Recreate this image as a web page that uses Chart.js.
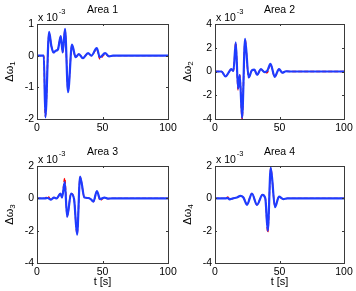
<!DOCTYPE html>
<html>
<head>
<meta charset="utf-8">
<script src="https://cdn.jsdelivr.net/npm/chart.js@4/dist/chart.umd.min.js"></script>
<style>
  html, body { margin: 0; padding: 0; background: #fff; }
  #wrap { position: relative; width: 356px; height: 291px; }
  canvas { position: absolute; left: 0; top: 0; }
</style>
</head>
<body>
<div id="wrap">
  <canvas id="area1" width="356" height="291"></canvas>
  <canvas id="area2" width="356" height="291"></canvas>
  <canvas id="area3" width="356" height="291"></canvas>
  <canvas id="area4" width="356" height="291"></canvas>
</div>
<script>
// values are in units of 1e-3
const xTicks = [0, 50, 100];

const timeArea1 = [0, 5.2, 6.4, 9.2, 11, 12.6, 14, 16, 18.1, 19.6, 21.4, 23.7, 26.7, 29.5, 32, 35, 39, 41.5, 45.6, 48, 52, 55, 58, 100];
const blueArea1 = [0, 0, -1.95, 0.75, 0.3, 0.1, 0.15, 0.2, 0.62, 0.1, 0.85, -1.15, 0.35, -0.05, 0.05, -0.08, 0.08, 0, 0.24, -0.05, 0.08, -0.02, 0, 0];
const redArea1 = [0, 0, -1.9, 0.72, 0.3, 0.1, 0.15, 0.2, 0.6, 0.1, 0.82, -1.1, 0.33, -0.05, 0.05, -0.08, 0.08, 0, 0.2, -0.1, 0.05, -0.02, 0, 0];
const yTicksArea1 = [-2, -1, 0, 1];

const timeArea2 = [0, 5, 8.2, 10.5, 12.5, 14.3, 16.1, 17.9, 19.2, 21, 23.3, 26.1, 28.6, 30.5, 32.7, 35.5, 38.4, 40.5, 43, 46.3, 49.6, 52.2, 55, 58, 100];
const blueArea2 = [0, 0, -0.42, -0.1, 0.2, 0.05, 2.45, -1.45, -0.3, -3.9, 2.75, -0.5, 0.1, 0.15, -0.28, 0.2, -0.05, 0.05, 0.65, -0.45, 0.2, -0.1, 0.02, 0, 0];
const redArea2 = [0, 0, -0.4, -0.1, 0.2, 0.05, 2.4, -1.55, -0.3, -4.0, 2.7, -0.5, 0.1, 0.15, -0.28, 0.2, -0.05, -0.1, 0.6, -0.45, 0.2, -0.1, 0.02, 0, 0];
const yTicksArea2 = [-4, -2, 0, 2, 4];

const timeArea3 = [0, 6, 8.2, 10.7, 13, 15, 17.9, 19.1, 21.2, 23, 26, 28.3, 30.6, 32.9, 36.2, 39, 41, 43.1, 45.7, 48.2, 51.5, 54, 57, 100];
const blueArea3 = [0, 0, 0.02, -0.08, 0.05, 0, 0.3, 0.05, 1.0, -1.15, 0.3, -0.05, -2.25, 1.35, 0.05, 0.02, -0.05, -0.2, 0.45, -0.05, 0.05, -0.02, 0, 0];
const redArea3 = [0, 0, 0.12, -0.08, 0.05, 0, 0.28, 0.05, 1.25, -1.1, 0.3, -0.05, -2.2, 1.3, 0.05, 0.02, -0.05, -0.2, 0.42, -0.12, 0.05, -0.02, 0, 0];
const yTicksArea3 = [-4, -2, 0, 2];

const timeArea4 = [0, 8, 10, 11.3, 14, 17, 19.7, 22, 24.8, 28.6, 32.5, 36.8, 39, 40.9, 43.2, 46.5, 49.6, 53, 56, 100];
const blueArea4 = [0, 0, 0.02, -0.06, 0, 0.05, 0.15, 0.05, -0.4, 0.3, -0.4, 0.22, 0, -2.0, 1.9, -0.55, 0.1, -0.05, 0, 0];
const redArea4 = [0, 0, 0.08, -0.06, 0, 0.05, 0.15, 0.05, -0.35, 0.3, -0.4, 0.22, 0, -2.1, 1.85, -0.5, 0.1, -0.05, 0, 0];
const yTicksArea4 = [-4, -2, 0, 2];

const fontFamily = '"Liberation Sans", Arial, Helvetica, sans-serif';
Chart.defaults.font.family = fontFamily;

const framePlugin = {
  id: "frame",
  afterDraw(chart) {
    const { ctx, chartArea: a, scales } = chart;
    const p = chart.options.plugins.frame;
    ctx.save();
    // box and inward ticks
    ctx.strokeStyle = "#3a3a3a";
    ctx.lineWidth = 1;
    ctx.strokeRect(a.left + 0.5, a.top + 0.5, a.right - a.left, a.bottom - a.top);
    ctx.beginPath();
    for (const t of scales.x.ticks) {
      const px = Math.round(scales.x.getPixelForValue(t.value)) + 0.5;
      ctx.moveTo(px, a.bottom); ctx.lineTo(px, a.bottom - 2);
      ctx.moveTo(px, a.top); ctx.lineTo(px, a.top + 2);
    }
    for (const t of scales.y.ticks) {
      const py = Math.round(scales.y.getPixelForValue(t.value)) + 0.5;
      ctx.moveTo(a.left, py); ctx.lineTo(a.left + 2, py);
      ctx.moveTo(a.right, py); ctx.lineTo(a.right - 2, py);
    }
    ctx.stroke();

    ctx.fillStyle = "#000";
    // title
    ctx.font = "10.5px " + fontFamily;
    ctx.textAlign = "center";
    ctx.textBaseline = "middle";
    ctx.fillText(p.title, (a.left + a.right) / 2, a.top - 13.5);

    // exponent label
    ctx.textAlign = "left";
    ctx.textBaseline = "alphabetic";
    ctx.font = "10.5px " + fontFamily;
    const base = "x 10";
    ctx.fillText(base, a.left + 1, a.top - 3);
    const bw = ctx.measureText(base).width;
    ctx.font = "7.5px " + fontFamily;
    ctx.fillText("-3", a.left + 2 + bw, a.top - 10);

    // y label with subscript
    ctx.save();
    ctx.translate(a.left - 27, (a.top + a.bottom) / 2);
    ctx.rotate(-Math.PI / 2);
    ctx.font = "11px " + fontFamily;
    const mw = ctx.measureText("Δω").width;
    ctx.font = "8px " + fontFamily;
    const sw = ctx.measureText(p.sub).width;
    const start = -(mw + sw) / 2;
    ctx.textAlign = "left";
    ctx.textBaseline = "middle";
    ctx.font = "11px " + fontFamily;
    ctx.fillText("Δω", start, 0);
    ctx.font = "8px " + fontFamily;
    ctx.fillText(p.sub, start + mw, 3);
    ctx.restore();

    // x label
    if (p.xlabel) {
      ctx.font = "11px " + fontFamily;
      ctx.textAlign = "center";
      ctx.textBaseline = "middle";
      ctx.fillText(p.xlabel, (a.left + a.right) / 2, a.bottom + 19);
    }
    ctx.restore();
  },
};

function makeChart(id, box, time, blue, red, yTicks, title, sub, xlabel) {
  const yW = 30;
  const xH = 20;
  const toPoints = (vals) => time.map((t, i) => ({ x: t, y: vals[i] }));
  return new Chart(document.getElementById(id), {
    type: "line",
    data: {
      datasets: [
        {
          data: toPoints(blue),
          borderColor: "#1e3cff",
          borderWidth: 2.2,
          pointRadius: 0,
          cubicInterpolationMode: "monotone",
          fill: false,
        },
        {
          data: toPoints(red),
          borderColor: "#ff0000",
          borderWidth: 1.4,
          borderDash: [4, 2],
          pointRadius: 0,
          cubicInterpolationMode: "monotone",
          fill: false,
        },
      ],
    },
    options: {
      responsive: false,
      animation: false,
      devicePixelRatio: 1,
      events: [],
      layout: {
        padding: { left: box.l - yW, top: box.t, right: 356 - box.r, bottom: 291 - box.b - xH },
      },
      plugins: {
        legend: { display: false },
        tooltip: { enabled: false },
        frame: { title, sub, xlabel },
      },
      scales: {
        x: {
          type: "linear",
          min: 0,
          max: 100,
          afterBuildTicks: (s) => { s.ticks = xTicks.map((v) => ({ value: v })); },
          afterFit: (s) => { s.height = xH; },
          grid: { display: false, drawTicks: false },
          border: { display: false },
          ticks: { padding: 3, color: "#000", font: { size: 10.5 }, maxRotation: 0, autoSkip: false },
        },
        y: {
          type: "linear",
          min: yTicks[0],
          max: yTicks[yTicks.length - 1],
          afterBuildTicks: (s) => { s.ticks = yTicks.map((v) => ({ value: v })); },
          afterFit: (s) => { s.width = yW; },
          grid: { display: false, drawTicks: false },
          border: { display: false },
          ticks: { padding: 3, color: "#000", font: { size: 10.5 }, autoSkip: false },
        },
      },
    },
    plugins: [framePlugin],
  });
}

makeChart("area1", { l: 37, t: 24, r: 168, b: 119 }, timeArea1, blueArea1, redArea1, yTicksArea1, "Area 1", "1", null);
makeChart("area2", { l: 215, t: 24, r: 344, b: 119 }, timeArea2, blueArea2, redArea2, yTicksArea2, "Area 2", "2", null);
makeChart("area3", { l: 37, t: 166, r: 168, b: 263 }, timeArea3, blueArea3, redArea3, yTicksArea3, "Area 3", "3", "t [s]");
makeChart("area4", { l: 215, t: 166, r: 344, b: 263 }, timeArea4, blueArea4, redArea4, yTicksArea4, "Area 4", "4", "t [s]");
</script>
</body>
</html>
